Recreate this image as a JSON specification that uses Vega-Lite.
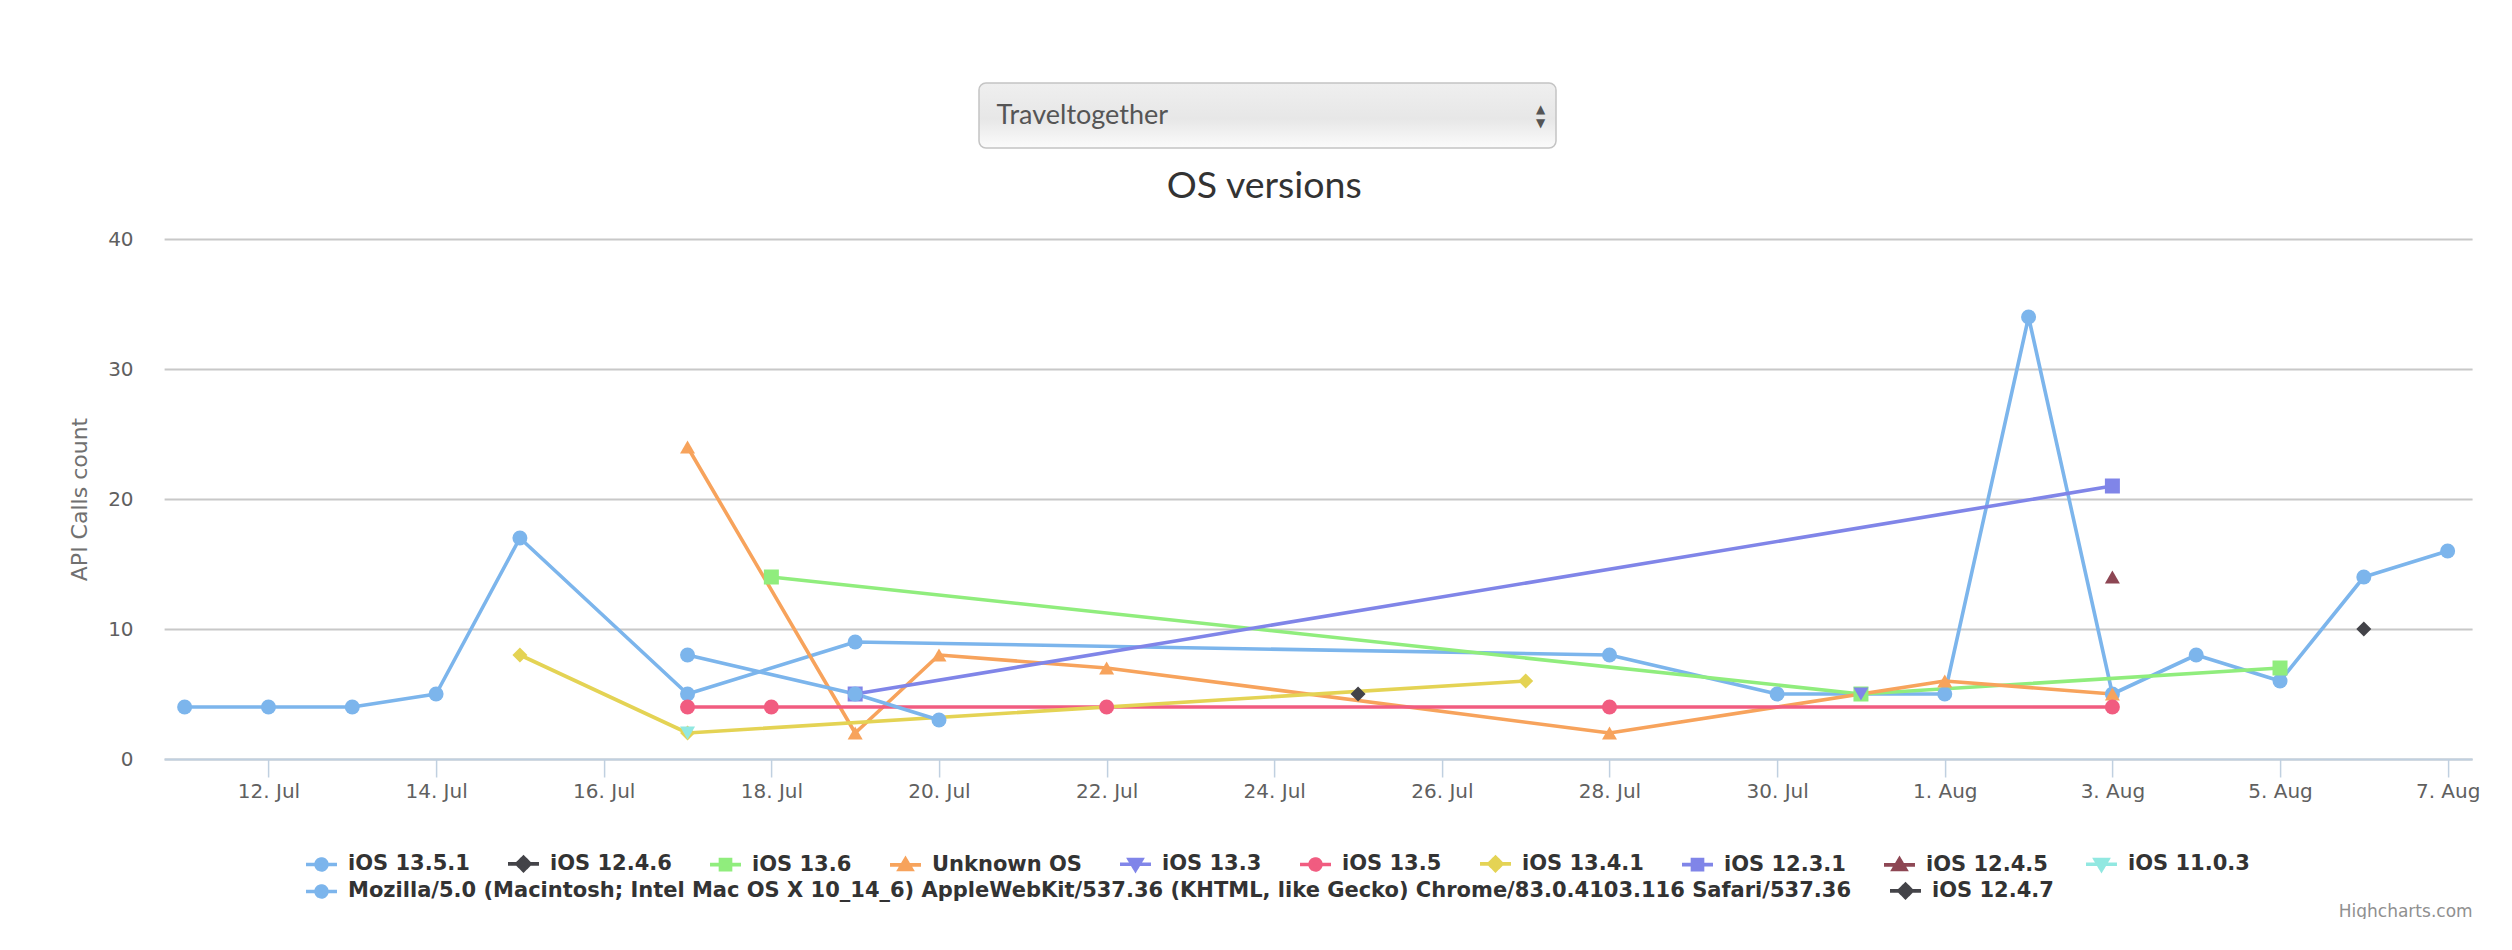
{
  "$schema": "https://vega.github.io/schema/vega-lite/v6.json",
  "background": "white",
  "padding": {"left": 68, "top": 82, "right": 0, "bottom": 0},
  "spacing": 18,
  "center": true,
  "config": {"view": {"stroke": null}, "font": "DejaVu Sans"},
  "vconcat": [
    {
      "spacing": 0,
      "hconcat": [
        {
          "width": 577,
          "height": 65,
          "data": {"values": [{"label": "Traveltogether", "up": "▲", "down": "▼"}]},
          "layer": [
            {
              "mark": {"type": "rect", "cornerRadius": 7, "stroke": "#c4c4c4", "strokeWidth": 1.5,
                "color": {"gradient": "linear", "x1": 0, "y1": 0, "x2": 0, "y2": 1,
                  "stops": [{"offset": 0, "color": "#efefef"}, {"offset": 0.55, "color": "#e7e7e7"}, {"offset": 1, "color": "#fbfbfb"}]}},
              "encoding": {}
            },
            {
              "mark": {"type": "text", "align": "left", "baseline": "middle", "dx": -271, "font": "Lato", "fontSize": 27, "color": "#555555"},
              "encoding": {"text": {"field": "label"}}
            },
            {
              "mark": {"type": "text", "align": "center", "baseline": "middle", "dx": 273, "dy": -7, "font": "DejaVu Sans", "fontSize": 12, "color": "#555555"},
              "encoding": {"text": {"field": "up"}}
            },
            {
              "mark": {"type": "text", "align": "center", "baseline": "middle", "dx": 273, "dy": 7, "font": "DejaVu Sans", "fontSize": 12, "color": "#555555"},
              "encoding": {"text": {"field": "down"}}
            }
          ]
        },
        {
          "width": 108,
          "height": 65,
          "data": {"values": [{"t": ""}]},
          "mark": {"type": "text"},
          "encoding": {"text": {"field": "t"}}
        }
      ]
    },
    {
      "width": 2308,
      "height": 520,
      "title": {"text": "OS versions", "font": "Lato", "fontSize": 37.5, "fontWeight": "normal", "color": "#333333", "offset": 24, "frame": "bounds", "anchor": "middle", "dx": -10},
      "data": {"values": [
        {"series": "iOS 13.5.1", "date": "2020-07-11T00:00:00", "count": 4},
        {"series": "iOS 13.5.1", "date": "2020-07-12T00:00:00", "count": 4},
        {"series": "iOS 13.5.1", "date": "2020-07-13T00:00:00", "count": 4},
        {"series": "iOS 13.5.1", "date": "2020-07-14T00:00:00", "count": 5},
        {"series": "iOS 13.5.1", "date": "2020-07-15T00:00:00", "count": 17},
        {"series": "iOS 13.5.1", "date": "2020-07-17T00:00:00", "count": 5},
        {"series": "iOS 13.5.1", "date": "2020-07-19T00:00:00", "count": 9},
        {"series": "iOS 13.5.1", "date": "2020-07-28T00:00:00", "count": 8},
        {"series": "iOS 13.5.1", "date": "2020-07-30T00:00:00", "count": 5},
        {"series": "iOS 13.5.1", "date": "2020-08-01T00:00:00", "count": 5},
        {"series": "iOS 13.5.1", "date": "2020-08-02T00:00:00", "count": 34},
        {"series": "iOS 13.5.1", "date": "2020-08-03T00:00:00", "count": 5},
        {"series": "iOS 13.5.1", "date": "2020-08-04T00:00:00", "count": 8},
        {"series": "iOS 13.5.1", "date": "2020-08-05T00:00:00", "count": 6},
        {"series": "iOS 13.5.1", "date": "2020-08-06T00:00:00", "count": 14},
        {"series": "iOS 13.5.1", "date": "2020-08-07T00:00:00", "count": 16},
        {"series": "iOS 12.4.6", "date": "2020-07-25T00:00:00", "count": 5},
        {"series": "iOS 13.6", "date": "2020-07-18T00:00:00", "count": 14},
        {"series": "iOS 13.6", "date": "2020-07-31T00:00:00", "count": 5},
        {"series": "iOS 13.6", "date": "2020-08-05T00:00:00", "count": 7},
        {"series": "Unknown OS", "date": "2020-07-17T00:00:00", "count": 24},
        {"series": "Unknown OS", "date": "2020-07-19T00:00:00", "count": 2},
        {"series": "Unknown OS", "date": "2020-07-20T00:00:00", "count": 8},
        {"series": "Unknown OS", "date": "2020-07-22T00:00:00", "count": 7},
        {"series": "Unknown OS", "date": "2020-07-28T00:00:00", "count": 2},
        {"series": "Unknown OS", "date": "2020-08-01T00:00:00", "count": 6},
        {"series": "Unknown OS", "date": "2020-08-03T00:00:00", "count": 5},
        {"series": "iOS 13.3", "date": "2020-07-31T00:00:00", "count": 5},
        {"series": "iOS 13.5", "date": "2020-07-17T00:00:00", "count": 4},
        {"series": "iOS 13.5", "date": "2020-07-18T00:00:00", "count": 4},
        {"series": "iOS 13.5", "date": "2020-07-22T00:00:00", "count": 4},
        {"series": "iOS 13.5", "date": "2020-07-28T00:00:00", "count": 4},
        {"series": "iOS 13.5", "date": "2020-08-03T00:00:00", "count": 4},
        {"series": "iOS 13.4.1", "date": "2020-07-15T00:00:00", "count": 8},
        {"series": "iOS 13.4.1", "date": "2020-07-17T00:00:00", "count": 2},
        {"series": "iOS 13.4.1", "date": "2020-07-27T00:00:00", "count": 6},
        {"series": "iOS 12.3.1", "date": "2020-07-19T00:00:00", "count": 5},
        {"series": "iOS 12.3.1", "date": "2020-08-03T00:00:00", "count": 21},
        {"series": "iOS 12.4.5", "date": "2020-08-03T00:00:00", "count": 14},
        {"series": "iOS 11.0.3", "date": "2020-07-17T00:00:00", "count": 2},
        {"series": "Mozilla/5.0 (Macintosh; Intel Mac OS X 10_14_6) AppleWebKit/537.36 (KHTML, like Gecko) Chrome/83.0.4103.116 Safari/537.36", "date": "2020-07-17T00:00:00", "count": 8},
        {"series": "Mozilla/5.0 (Macintosh; Intel Mac OS X 10_14_6) AppleWebKit/537.36 (KHTML, like Gecko) Chrome/83.0.4103.116 Safari/537.36", "date": "2020-07-19T00:00:00", "count": 5},
        {"series": "Mozilla/5.0 (Macintosh; Intel Mac OS X 10_14_6) AppleWebKit/537.36 (KHTML, like Gecko) Chrome/83.0.4103.116 Safari/537.36", "date": "2020-07-20T00:00:00", "count": 3},
        {"series": "iOS 12.4.7", "date": "2020-08-06T00:00:00", "count": 10}
      ]},
      "encoding": {
        "x": {
          "field": "date", "type": "temporal",
          "scale": {"domain": [{"year": 2020, "month": 7, "date": 10, "hours": 18, "minutes": 7}, {"year": 2020, "month": 8, "date": 7, "hours": 7}]},
          "axis": {
            "values": [
              {"year": 2020, "month": 7, "date": 12}, {"year": 2020, "month": 7, "date": 14},
              {"year": 2020, "month": 7, "date": 16}, {"year": 2020, "month": 7, "date": 18},
              {"year": 2020, "month": 7, "date": 20}, {"year": 2020, "month": 7, "date": 22},
              {"year": 2020, "month": 7, "date": 24}, {"year": 2020, "month": 7, "date": 26},
              {"year": 2020, "month": 7, "date": 28}, {"year": 2020, "month": 7, "date": 30},
              {"year": 2020, "month": 8, "date": 1}, {"year": 2020, "month": 8, "date": 3},
              {"year": 2020, "month": 8, "date": 5}, {"year": 2020, "month": 8, "date": 7}
            ],
            "format": "%-d. %b",
            "labelFont": "DejaVu Sans", "labelFontSize": 20, "labelColor": "#606060", "labelPadding": 4,
            "labelOverlap": false, "labelFlush": false,
            "domainColor": "#C0D0E0", "domainWidth": 2, "tickColor": "#C0D0E0", "tickSize": 18, "tickWidth": 1.5,
            "grid": false, "zindex": 1,
            "title": "Highcharts.com", "titleFont": "DejaVu Sans", "titleFontSize": 17, "titleFontWeight": "normal",
            "titleColor": "#909090", "titleAnchor": "end", "titleAlign": "right", "titleBaseline": "middle", "titleY": 152
          }
        },
        "y": {
          "field": "count", "type": "quantitative",
          "scale": {"domain": [0, 40]},
          "axis": {
            "values": [0, 10, 20, 30, 40],
            "title": "API Calls count", "titleFont": "DejaVu Sans", "titleFontSize": 22, "titleFontWeight": "normal",
            "titleColor": "#707070", "titlePadding": 16,
            "labelFont": "DejaVu Sans", "labelFontSize": 20, "labelColor": "#606060", "labelPadding": 31,
            "domain": false, "ticks": false, "tickSize": 0,
            "grid": true, "gridColor": "#C8C8C8", "gridWidth": 2
          }
        },
        "color": {
          "field": "series", "type": "nominal",
          "scale": {
            "domain": ["iOS 13.5.1", "iOS 12.4.6", "iOS 13.6", "Unknown OS", "iOS 13.3", "iOS 13.5", "iOS 13.4.1", "iOS 12.3.1", "iOS 12.4.5", "iOS 11.0.3", "Mozilla/5.0 (Macintosh; Intel Mac OS X 10_14_6) AppleWebKit/537.36 (KHTML, like Gecko) Chrome/83.0.4103.116 Safari/537.36", "iOS 12.4.7"],
            "range": ["#7cb5ec", "#434348", "#90ed7d", "#f7a35c", "#8085e9", "#f15c80", "#e4d354", "#8085e8", "#8d4653", "#91e8e1", "#7cb5ec", "#434348"]
          },
          "legend": {
            "values": ["iOS 13.5.1", "iOS 12.4.6", "iOS 13.6", "Unknown OS", "iOS 13.3", "iOS 13.5", "iOS 13.4.1", "iOS 12.3.1", "iOS 12.4.5", "iOS 11.0.3"],
            "orient": "none", "legendX": 147, "legendY": 770, "direction": "horizontal",
            "columns": 10, "title": null, "padding": 0,
            "labelFont": "DejaVu Sans", "labelFontSize": 21, "labelFontWeight": "bold", "labelColor": "#333333",
            "labelLimit": 3000, "symbolSize": 240, "symbolStrokeWidth": 1.5, "labelOffset": 16, "columnPadding": 30, "rowPadding": 0,
            "encode": {
              "symbols": {
                "update": {
                  "shape": {"signal": "(datum.value == 'iOS 12.4.6' || datum.value == 'iOS 13.4.1') ? 'M-2,0H2M0,-0.85L0.85,0L0,0.85L-0.85,0Z' : (datum.value == 'iOS 13.6' || datum.value == 'iOS 12.3.1') ? 'M-2,0H2M-0.65,-0.65H0.65V0.65H-0.65Z' : (datum.value == 'Unknown OS' || datum.value == 'iOS 12.4.5') ? 'M-2,0H2M0,-0.75L0.8,0.6H-0.8Z' : (datum.value == 'iOS 13.3' || datum.value == 'iOS 11.0.3') ? 'M-2,0H2M0,0.75L0.8,-0.6H-0.8Z' : 'M-2,0H2M0.7,0A0.7,0.7,0,1,1,-0.7,0A0.7,0.7,0,1,1,0.7,0Z'"},
                  "stroke": {"scale": "color", "field": "value"},
                  "fill": {"scale": "color", "field": "value"},
                  "strokeWidth": {"value": 3.6},
                  "strokeDash": {"value": [1, 0]},
                  "opacity": {"value": 1}
                }
              }
            }
          }
        },
        "opacity": {
          "field": "series", "type": "nominal",
          "scale": {
            "domain": ["Mozilla/5.0 (Macintosh; Intel Mac OS X 10_14_6) AppleWebKit/537.36 (KHTML, like Gecko) Chrome/83.0.4103.116 Safari/537.36", "iOS 12.4.7", "iOS 13.5.1", "iOS 12.4.6", "iOS 13.6", "Unknown OS", "iOS 13.3", "iOS 13.5", "iOS 13.4.1", "iOS 12.3.1", "iOS 12.4.5", "iOS 11.0.3"],
            "range": [1, 1, 1, 1, 1, 1, 1, 1, 1, 1, 1, 1]
          },
          "legend": {
            "values": ["Mozilla/5.0 (Macintosh; Intel Mac OS X 10_14_6) AppleWebKit/537.36 (KHTML, like Gecko) Chrome/83.0.4103.116 Safari/537.36", "iOS 12.4.7"],
            "orient": "none", "legendX": 147, "legendY": 797, "direction": "horizontal",
            "columns": 2, "title": null, "padding": 0,
            "labelFont": "DejaVu Sans", "labelFontSize": 21, "labelFontWeight": "bold", "labelColor": "#333333",
            "labelLimit": 3000, "symbolSize": 240, "symbolStrokeWidth": 1.5, "labelOffset": 16, "columnPadding": 30, "rowPadding": 0,
            "encode": {
              "symbols": {
                "update": {
                  "shape": {"signal": "datum.value == 'iOS 12.4.7' ? 'M-2,0H2M0,-0.85L0.85,0L0,0.85L-0.85,0Z' : 'M-2,0H2M0.7,0A0.7,0.7,0,1,1,-0.7,0A0.7,0.7,0,1,1,0.7,0Z'"},
                  "stroke": {"scale": "color", "field": "value"},
                  "fill": {"scale": "color", "field": "value"},
                  "strokeWidth": {"value": 3.6},
                  "strokeDash": {"value": [1, 0]},
                  "opacity": {"value": 1}
                }
              }
            }
          }
        }
      },
      "layer": [
        {
          "mark": {"type": "line", "strokeWidth": 3.6, "strokeJoin": "round", "strokeCap": "round"}
        },
        {
          "mark": {"type": "point", "filled": true, "size": 225},
          "encoding": {
            "shape": {
              "field": "series", "type": "nominal", "legend": null,
              "scale": {
                "domain": ["iOS 12.4.7", "Mozilla/5.0 (Macintosh; Intel Mac OS X 10_14_6) AppleWebKit/537.36 (KHTML, like Gecko) Chrome/83.0.4103.116 Safari/537.36", "iOS 11.0.3", "iOS 12.4.5", "iOS 12.3.1", "iOS 13.4.1", "iOS 13.5", "iOS 13.3", "Unknown OS", "iOS 13.6", "iOS 12.4.6", "iOS 13.5.1"],
                "range": ["diamond", "circle", "triangle-down", "triangle-up", "square", "diamond", "circle", "triangle-down", "triangle-up", "square", "diamond", "circle"]
              }
            }
          }
        }
      ]
    }
  ]
}
